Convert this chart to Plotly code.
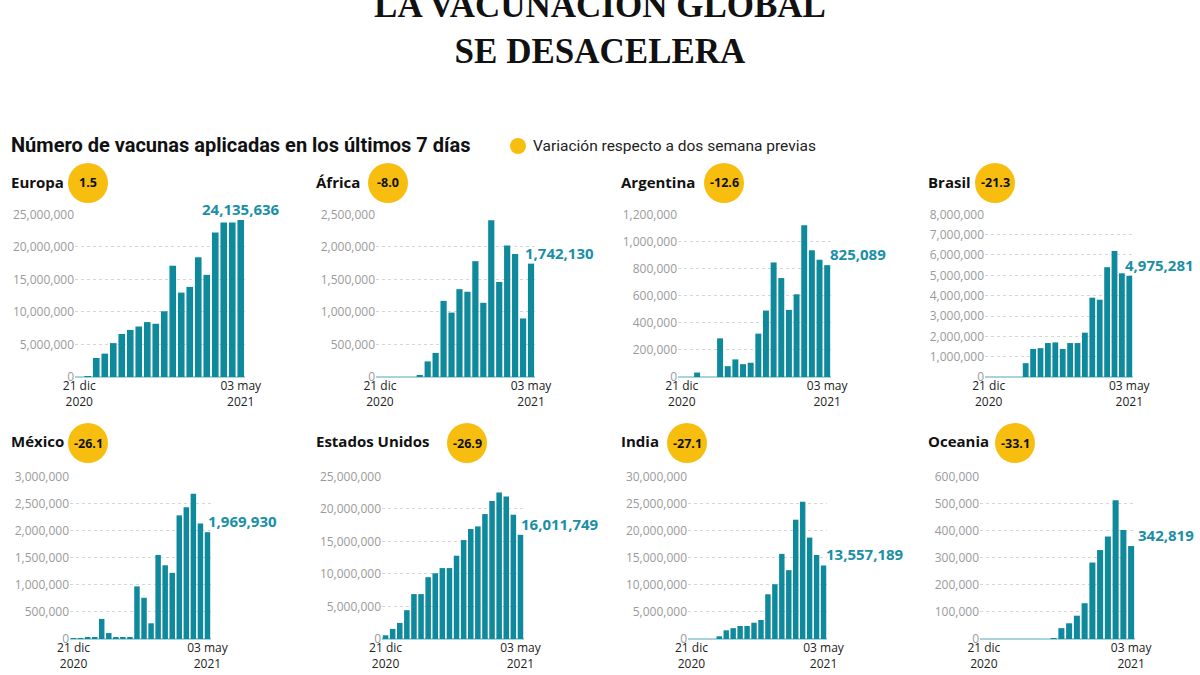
import plotly.graph_objects as go

# ---------------- data ----------------
weeks = ["2020-12-21", "2020-12-28", "2021-01-04", "2021-01-11", "2021-01-18",
         "2021-01-25", "2021-02-01", "2021-02-08", "2021-02-15", "2021-02-22",
         "2021-03-01", "2021-03-08", "2021-03-15", "2021-03-22", "2021-03-29",
         "2021-04-05", "2021-04-12", "2021-04-19", "2021-04-26", "2021-05-03"]
x_tick_labels = ["21 dic<br>2020", "03 may<br>2021"]

regions = ["Europa", "África", "Argentina", "Brasil",
           "México", "Estados Unidos", "India", "Oceania"]
variation = ["1.5", "-8.0", "-12.6", "-21.3", "-26.1", "-26.9", "-27.1", "-33.1"]

europa = [0, 100000, 2920000, 3590000, 5210000, 6610000, 7240000, 7760000, 8440000, 8180000,
          10100000, 17100000, 12970000, 13850000, 18400000, 15700000, 22200000, 23750000,
          23750000, 24135636]
africa = [0, 0, 0, 0, 0, 20000, 240000, 370000, 1170000, 990000,
          1350000, 1310000, 1780000, 1140000, 2410000, 1460000, 2020000, 1890000,
          900000, 1742130]
argentina = [0, 0, 33000, 0, 0, 285000, 80000, 130000, 95000, 105000,
             320000, 490000, 845000, 730000, 495000, 610000, 1120000, 935000,
             865000, 825089]
brasil = [0, 0, 0, 0, 0, 680000, 1380000, 1420000, 1670000, 1700000,
          1380000, 1670000, 1670000, 2180000, 3900000, 3800000, 5400000, 6200000,
          5100000, 4975281]
mexico = [5000, 10000, 20000, 30000, 370000, 110000, 20000, 25000, 20000, 970000,
          760000, 290000, 1550000, 1360000, 1220000, 2280000, 2430000, 2680000,
          2130000, 1969930]
usa = [570000, 1550000, 2470000, 4430000, 6900000, 6900000, 9500000, 10100000, 10900000,
       10900000, 12800000, 15200000, 16900000, 17300000, 19200000, 21200000, 22500000,
       21900000, 19100000, 16011749]
india = [0, 0, 0, 0, 500000, 1600000, 2000000, 2400000, 2400000, 3000000,
         3500000, 8250000, 10100000, 15700000, 12700000, 22000000, 25300000, 18700000,
         15500000, 13557189]
oceania = [0, 0, 0, 0, 0, 0, 0, 0, 0, 3000,
           40000, 58000, 86000, 132000, 282000, 328000, 378000, 512000,
           402000, 342819]

series = [europa, africa, argentina, brasil, mexico, usa, india, oceania]
y_top = [25000000, 2500000, 1200000, 8000000, 3000000, 25000000, 30000000, 600000]
y_step = [5000000, 500000, 200000, 1000000, 500000, 5000000, 5000000, 100000]

# ---------------- layout geometry (pixels) ----------------
W, H = 1200, 675
x_dom_px = [(75, 245), (376, 535), (678, 831), (985, 1133),
            (70, 211), (382, 524), (688, 827), (980, 1135)]
row_px = [(214, 377), (476, 639)]
title_px = [(9, 182), (314, 182), (619, 182), (926, 182),
            (9, 441), (314, 441), (619, 441), (926, 441)]
badge_px = [(88, 183), (388, 183), (724, 183), (995, 183),
            (88, 443), (467, 443), (687, 443), (1015, 443)]
badge_r = 20
label_xshift = [-41, -8, 1, -6, -1, -1, 0, 5]

BAR = "#0f8a9d"
LABEL = "#1a8fa6"
YELLOW = "#f7be10"
FONT = "Open Sans"

fig = go.Figure()
layout = {}
annotations = []
shapes = []

for i, vals in enumerate(series):
    ax = "" if i == 0 else str(i + 1)
    x0, x1 = x_dom_px[i]
    yt, yb = row_px[i // 4]
    fig.add_trace(go.Bar(
        x=weeks, y=vals, xaxis="x" + ax, yaxis="y" + ax,
        marker=dict(color=BAR, line=dict(width=0)),
        hovertemplate="%{x}: %{y:,}<extra></extra>",
        showlegend=False,
    ))
    layout["xaxis" + ax] = dict(
        domain=[x0 / W, x1 / W], anchor="y" + ax, type="category",
        range=[-0.5, len(weeks) - 0.5], automargin=False,
        tickmode="array", tickvals=[weeks[0], weeks[-1]], ticktext=x_tick_labels,
        showgrid=False, zeroline=False, showline=False, ticks="",
        tickfont=dict(family=FONT, size=12, color="#222"),
        fixedrange=True,
    )
    layout["yaxis" + ax] = dict(
        domain=[1 - yb / H, 1 - yt / H], anchor="x" + ax, automargin=False,
        range=[0, y_top[i] * 1.002], tick0=0, dtick=y_step[i], tickformat=",d",
        showgrid=True, gridcolor="#d6d6d6", griddash="dot", gridwidth=1,
        zeroline=True, zerolinecolor="#a9d3da", zerolinewidth=1.5,
        showline=False, ticks="",
        tickfont=dict(family=FONT, size=12, color="#9a9a9a"),
        fixedrange=True,
    )
    # last-value label
    annotations.append(dict(
        x=weeks[-1], y=vals[-1], xref="x" + ax, yref="y" + ax,
        text="<b>" + f"{vals[-1]:,}" + "</b>", showarrow=False,
        xanchor="left", yanchor="middle", xshift=label_xshift[i], yshift=11,
        font=dict(family=FONT, size=15, color=LABEL),
    ))
    # panel title
    tx, ty = title_px[i]
    annotations.append(dict(
        x=tx / W, y=1 - ty / H, xref="paper", yref="paper",
        text="<b>" + regions[i] + "</b>", showarrow=False,
        xanchor="left", yanchor="middle",
        font=dict(family=FONT, size=15, color="#111"),
    ))
    # badge
    cx, cy = badge_px[i]
    shapes.append(dict(
        type="circle", xref="paper", yref="paper",
        x0=(cx - badge_r) / W, x1=(cx + badge_r) / W,
        y0=1 - (cy + badge_r) / H, y1=1 - (cy - badge_r) / H,
        fillcolor=YELLOW, line=dict(width=0), layer="below",
    ))
    annotations.append(dict(
        x=cx / W, y=1 - cy / H, xref="paper", yref="paper",
        text="<b>" + variation[i] + "</b>", showarrow=False,
        xanchor="center", yanchor="middle",
        font=dict(family=FONT, size=12.5, color="#111"),
    ))

annotations.append(dict(
    x=9 / W, y=1 - 145 / H, xref="paper", yref="paper",
    text="<b>Número de vacunas aplicadas en los últimos 7 días</b>", showarrow=False,
    xanchor="left", yanchor="middle",
    font=dict(family="Roboto", size=20, color="#111"),
))
annotations.append(dict(
    x=531 / W, y=1 - 146 / H, xref="paper", yref="paper",
    text="Variación respecto a dos semana previas", showarrow=False,
    xanchor="left", yanchor="middle",
    font=dict(family="Roboto", size=15.5, color="#222"),
))
shapes.append(dict(
    type="circle", xref="paper", yref="paper",
    x0=510 / W, x1=526 / W, y0=1 - 154 / H, y1=1 - 138 / H,
    fillcolor=YELLOW, line=dict(width=0),
))

fig.update_layout(
    width=W, height=H,
    margin=dict(l=0, r=0, t=0, b=0, autoexpand=False),
    paper_bgcolor="white", plot_bgcolor="white",
    bargap=0.22,
    title=dict(
        text="<b>LA VACUNACIÓN GLOBAL<br>SE DESACELERA</b>",
        x=0.5, xanchor="center", xref="paper",
        y=1 - 17 / H, yref="container", yanchor="middle",
        font=dict(family="Liberation Serif", size=35, color="#111"),
        automargin=False,
    ),
    annotations=annotations, shapes=shapes,
    showlegend=False,
    **layout,
)

fig.write_html(
    "out.html",
    config={"displayModeBar": False},
    post_script="document.body.style.margin='0';document.body.style.overflow='hidden';",
)
